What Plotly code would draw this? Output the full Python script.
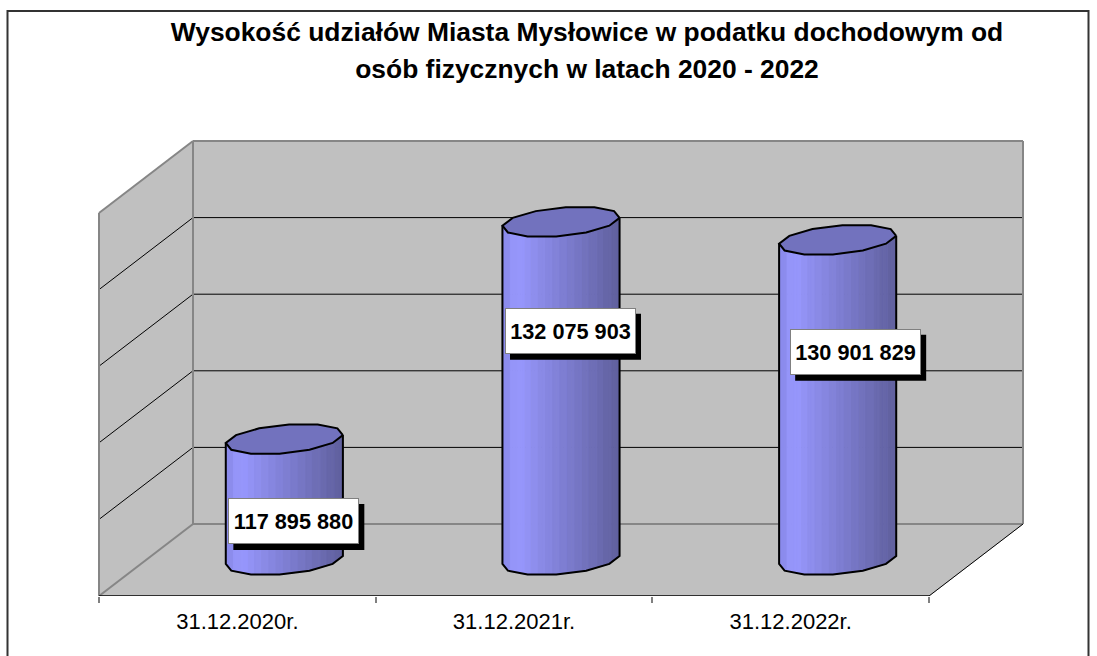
import numpy as np
import plotly.graph_objects as go

# --- data ---
categories = ["31.12.2020r.", "31.12.2021r.", "31.12.2022r."]
values = [117895880, 132075903, 130901829]
value_labels = ["117 895 880", "132 075 903", "130 901 829"]
title_lines = ["Wysokość udziałów Miasta Mysłowice w podatku dochodowym od",
               "osób fizycznych w latach 2020 - 2022"]
y_min, y_max, y_step = 110_000_000, 135_000_000, 5_000_000

# --- layout constants (style / position only) ---
W, H = 1097, 656
L, R, T, B = 99, 929, 213, 596
PX_X = (R - L) / 3.0
PX_Y = (B - T) / (y_max - y_min)
DEPTH_X_PX, DEPTH_Y_PX = 94, 72
DX = DEPTH_X_PX / PX_X
DY = DEPTH_Y_PX / PX_Y
PAD = 2
WALL, EDGE = "#C0C0C0", "#868686"
RX, RZ = 0.2, 0.21
N_SIDES = 12
SUB = 8
BANDS = 16
label_shift = [(56, -46), (56, -73), (64.5, -76)]
stops = [(0.0, (136, 136, 232)), (0.12, (153, 153, 255)), (0.5, (128, 128, 214)),
         (0.82, (108, 108, 178)), (1.0, (96, 96, 158))]

# plot-area box in pixels: it holds the whole 3D box
box_l, box_r = L - PAD, R + DEPTH_X_PX + PAD
box_t, box_b = T - DEPTH_Y_PX - PAD, B


def proj(cat, val, depth):
    return cat + DX * depth, val + DY * depth


fig = go.Figure()


def poly(xs, ys, fill=None, line=WALL, width=1):
    fig.add_trace(go.Scatter(
        x=list(xs), y=list(ys), mode="lines", fill="toself" if fill else "none",
        fillcolor=fill, line=dict(color=line, width=width), hoverinfo="skip",
        showlegend=False, cliponaxis=False))


def seg(p0, p1, color, width):
    a, b = proj(*p0), proj(*p1)
    poly([a[0], b[0]], [a[1], b[1]], None, color, width)


def quad(points, fill):
    pts = [proj(*p) for p in points]
    poly([p[0] for p in pts] + [pts[0][0]], [p[1] for p in pts] + [pts[0][1]], fill, fill, 1)


# walls and floor
quad([(0, y_min, 0), (0, y_max, 0), (0, y_max, 1), (0, y_min, 1)], WALL)
quad([(0, y_min, 1), (0, y_max, 1), (3, y_max, 1), (3, y_min, 1)], WALL)
quad([(0, y_min, 0), (3, y_min, 0), (3, y_min, 1), (0, y_min, 1)], WALL)

# gridlines
for v in range(y_min + y_step, y_max, y_step):
    seg((0, v, 0), (0, v, 1), "#000000", 1)
    seg((0, v, 1), (3, v, 1), "#000000", 1)

# wall edges
for a, b in [((0, y_min, 0), (0, y_max, 0)), ((0, y_max, 0), (0, y_max, 1)),
             ((0, y_max, 1), (3, y_max, 1)), ((3, y_max, 1), (3, y_min, 1)),
             ((0, y_min, 1), (0, y_max, 1)), ((0, y_min, 1), (3, y_min, 1)),
             ((0, y_min, 0), (0, y_min, 1))]:
    seg(a, b, EDGE, 2)
seg((3, y_min, 0), (3, y_min, 1), "#000000", 1)
seg((0, y_min, 0), (3, y_min, 0), "#000000", 1.5)


def shade(u):
    u = (np.floor(u * BANDS) + 0.5) / BANDS
    us = [s[0] for s in stops]
    return "rgb(%d,%d,%d)" % tuple(np.interp(u, us, [s[1][i] for s in stops]) for i in range(3))


def ring(c, val):
    t = np.arange(N_SIDES + 1) * 2 * np.pi / N_SIDES + np.pi / N_SIDES
    return (c + RX * np.cos(t) + DX * (0.5 + RZ * np.sin(t)),
            val + DY * (0.5 + RZ * np.sin(t)))


# cylinders
for i, v in enumerate(values):
    c = i + 0.5
    xb, yb = ring(c, y_min)
    _, yt = ring(c, v)
    closed_x = xb[:-1]
    il, ir = int(np.argmin(closed_x)), int(np.argmax(closed_x))
    idx = []
    k = il
    while True:
        idx.append(k)
        if k == ir:
            break
        k = (k + 1) % N_SIDES
    if np.mean(yb[idx]) > np.mean(yb[:-1]):
        idx = []
        k = il
        while True:
            idx.append(k)
            if k == ir:
                break
            k = (k - 1) % N_SIDES
    fx = xb[idx]
    fb = yb[idx]
    ft = yt[idx]
    s = np.linspace(0, len(idx) - 1, (len(idx) - 1) * SUB + 1)
    gx = np.interp(s, np.arange(len(idx)), fx)
    gb = np.interp(s, np.arange(len(idx)), fb)
    gt = np.interp(s, np.arange(len(idx)), ft)
    for j in range(len(gx) - 1):
        col = shade((0.5 * (gx[j] + gx[j + 1]) - fx[0]) / (fx[-1] - fx[0]))
        poly([gx[j], gx[j + 1], gx[j + 1], gx[j], gx[j]],
             [gb[j], gb[j + 1], gt[j + 1], gt[j], gb[j]], col, col, 1)
    poly([fx[0]] + list(fx) + [fx[-1]], [ft[0]] + list(fb) + [ft[-1]], None, "#000000", 2)
    poly(xb, yt, "#7272BE", "#000000", 2)

# label shadows + white boxes
shapes = []
annotations = []
for i, (v, txt) in enumerate(zip(values, value_labels)):
    sx, sy = label_shift[i]
    shapes.append(dict(type="rect", xref="x", yref="y", xsizemode="pixel", ysizemode="pixel",
                       xanchor=i + 0.5, yanchor=v,
                       x0=sx - 60, x1=sx + 71, y0=sy - 29, y1=sy + 17,
                       fillcolor="#000000", line=dict(width=0), layer="above"))
    annotations.append(dict(x=i + 0.5, y=v, xref="x", yref="y", xshift=sx, yshift=sy,
                            text="<b>%s</b>" % txt, showarrow=False, width=129, height=44,
                            bgcolor="#FFFFFF", bordercolor="#808080", borderwidth=1, borderpad=0,
                            align="center", valign="middle",
                            font=dict(family="Liberation Sans", size=21.7, color="#000000")))

# outer frame (paper coordinates are plot-area fractions)
pw, ph = box_r - box_l, box_b - box_t
shapes.append(dict(type="rect", xref="paper", yref="paper",
                   x0=(7.5 - box_l) / pw, x1=(1088.5 - box_l) / pw,
                   y0=(box_b - 670) / ph, y1=(box_b - 11) / ph,
                   line=dict(color="#333333", width=2), layer="below"))

fig.update_layout(
    width=W, height=H, autosize=False,
    margin=dict(l=box_l, r=W - box_r, t=box_t, b=H - box_b, pad=0),
    paper_bgcolor="#FFFFFF", plot_bgcolor="rgba(0,0,0,0)",
    showlegend=False, shapes=shapes, annotations=annotations,
    title=dict(
        text="<b><span style='font-size:26.4px'>%s</span><br><span style='font-size:26.4px'>%s</span></b>" % tuple(title_lines),
        x=587 / W, xanchor="center", y=1 - 41 / H, yanchor="middle",
        font=dict(family="Liberation Sans", size=28.5, color="#000000")),
    xaxis=dict(range=[-PAD / PX_X, 3 + DX + PAD / PX_X], tickmode="array",
               tickvals=[0.5, 1.5, 2.5], ticktext=categories,
               ticks="outside", ticklen=0, showgrid=False, zeroline=False,
               showline=False,
               ticklabelstandoff=6,
               tickfont=dict(family="Liberation Sans", size=22, color="#000000"),
               minor=dict(tickmode="array", tickvals=[0, 1, 2, 3], ticks="outside", ticklen=6,
                          tickcolor="#808080", tickwidth=2, showgrid=False),
               fixedrange=True),
    yaxis=dict(range=[y_min, y_max + DY + PAD / PX_Y], showticklabels=False, ticks="",
               showgrid=False, zeroline=False, showline=False, fixedrange=True),
)

fig.write_html("out.html", config=dict(displayModeBar=False),
               post_script="document.body.style.margin='0';")
